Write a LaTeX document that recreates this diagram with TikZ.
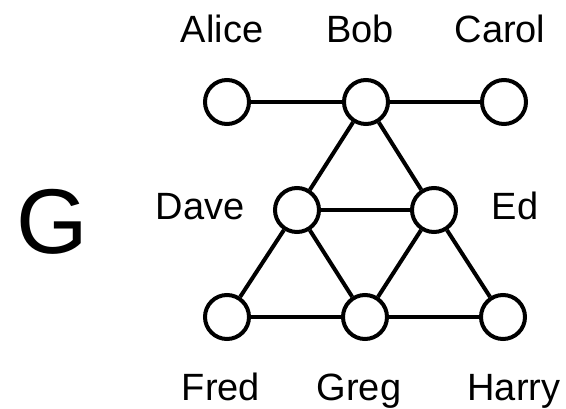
\documentclass[tikz,border=0pt]{standalone}
\usepackage{fontspec}
\setmainfont{Liberation Sans}
\begin{document}
\begin{tikzpicture}[x=1pt,y=-1pt,
  vtx/.style={circle,draw,line width=4pt,minimum size=44pt,inner sep=0pt,fill=white},
  lbl/.style={anchor=base,inner sep=0pt,font=\fontsize{38}{40}\selectfont},
  edge/.style={line width=4pt}]
\useasboundingbox (0,0) rectangle (566,409);
\node[vtx] (alice) at (227,102) {};
\node[vtx] (bob) at (366,102) {};
\node[vtx] (carol) at (504,102) {};
\node[vtx] (dave) at (297,210) {};
\node[vtx] (ed) at (434,210) {};
\node[vtx] (fred) at (227,317) {};
\node[vtx] (greg) at (365,317) {};
\node[vtx] (harry) at (503,317) {};
\begin{scope}[on background layer/.style={}]
\end{scope}
\draw[edge] (alice) -- (bob);
\draw[edge] (bob) -- (carol);
\draw[edge] (bob) -- (dave);
\draw[edge] (bob) -- (ed);
\draw[edge] (dave) -- (ed);
\draw[edge] (dave) -- (fred);
\draw[edge] (dave) -- (greg);
\draw[edge] (ed) -- (greg);
\draw[edge] (ed) -- (harry);
\draw[edge] (fred) -- (greg);
\draw[edge] (greg) -- (harry);
\node[lbl] (lalice) at (222,43) {Alice};
\node[lbl] (lbob) at (360,43) {Bob};
\node[lbl] (lcarol) at (500,43) {Carol};
\node[lbl] (ldave) at (200,220) {Dave};
\node[lbl] (led) at (515,220) {Ed};
\node[lbl] (lfred) at (221,400) {Fred};
\node[lbl] (lgreg) at (359,400) {Greg};
\node[lbl] (lharry) at (514,400) {Harry};
\node[anchor=base,inner sep=0pt,font=\fontsize{92}{96}\selectfont] (g) at (52,254) {G};
\end{tikzpicture}
\end{document}
